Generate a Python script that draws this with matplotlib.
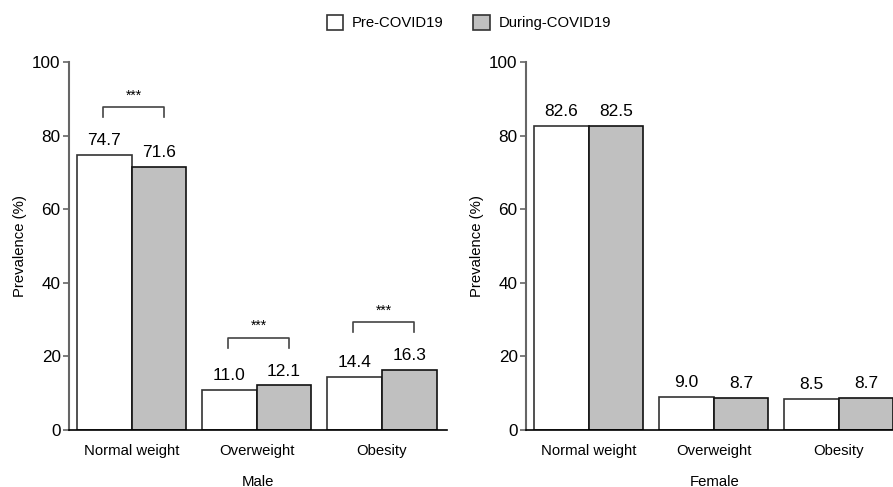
import matplotlib as mpl
mpl.use('Agg')
import matplotlib.pyplot as plt
from matplotlib.patches import Patch
import numpy as np

plt.rcParams['font.family'] = ['Liberation Sans', 'DejaVu Sans']

categories = ['Normal weight', 'Overweight', 'Obesity']
series_names = ['Pre-COVID19', 'During-COVID19']
male_pre = [74.7, 11.0, 14.4]
male_during = [71.6, 12.1, 16.3]
female_pre = [82.6, 9.0, 8.5]
female_during = [82.5, 8.7, 8.7]
male_sig = ['***', '***', '***']
female_sig = ['', '', '']

fill_colors = ['white', '#c0c0c0']
edge_colors = ['#333333', '#111111']
spine_gray = '#666666'
w = 0.436


def plot_panel(ax, pre, during, sig, xlabel):
    x = np.arange(len(categories))
    for k, vals in enumerate([pre, during]):
        pos = x + (k - 0.5) * w
        ax.bar(pos, vals, width=w, color=fill_colors[k], edgecolor=edge_colors[k], lw=1.2)
        for p, v in zip(pos, vals):
            ax.annotate('%.1f' % v, (p, v), xytext=(0, 5), textcoords='offset points',
                        ha='center', va='bottom', fontsize=12.5)
    # significance brackets
    for i, s in enumerate(sig):
        if not s:
            continue
        top = max(pre[i], during[i]) + 13
        x0 = i - w / 2 - 0.01
        x1 = i + w / 2 + 0.04
        ax.plot([x0, x0, x1, x1], [top - 2.7, top, top, top - 2.7], color='#444444', lw=1.2)
        ax.text((x0 + x1) / 2, top + 1.3, s, ha='center', va='bottom', fontsize=10)

    ax.set_xlim(-0.5, 2.52)
    ax.set_ylim(0, 100)
    ax.set_xticks(x)
    ax.set_xticklabels(categories, fontsize=10.7)
    ax.set_yticks([0, 20, 40, 60, 80, 100])
    ax.tick_params(axis='x', length=0, pad=10)
    ax.tick_params(axis='y', length=4, width=1.2, color=spine_gray, labelsize=12.3, pad=2)
    ax.set_ylabel('Prevalence (%)', fontsize=10.7, labelpad=4)
    ax.set_xlabel(xlabel, fontsize=10.7, labelpad=12)
    for sp in ['top', 'right']:
        ax.spines[sp].set_visible(False)
    ax.spines['left'].set_color(spine_gray)
    ax.spines['left'].set_linewidth(1.5)
    ax.spines['bottom'].set_color('black')
    ax.spines['bottom'].set_linewidth(1.2)


fig = plt.figure(figsize=(8.93, 4.87), dpi=100)
ax1 = fig.add_axes([0.0773, 0.117, 0.4233, 0.7556])
ax2 = fig.add_axes([0.589, 0.117, 0.4233, 0.7556])

plot_panel(ax1, male_pre, male_during, male_sig, 'Male')
plot_panel(ax2, female_pre, female_during, female_sig, 'Female')

handles = [Patch(facecolor=fill_colors[k], edgecolor='#333333', lw=1.2, label=series_names[k])
           for k in range(2)]
fig.legend(handles=handles, loc='center', bbox_to_anchor=(0.525, 0.953), ncol=2,
           frameon=False, fontsize=10.7, handlelength=1.1, handleheight=1.1,
           handletextpad=0.6, columnspacing=2.0)

fig.savefig('out.png', dpi=100)
